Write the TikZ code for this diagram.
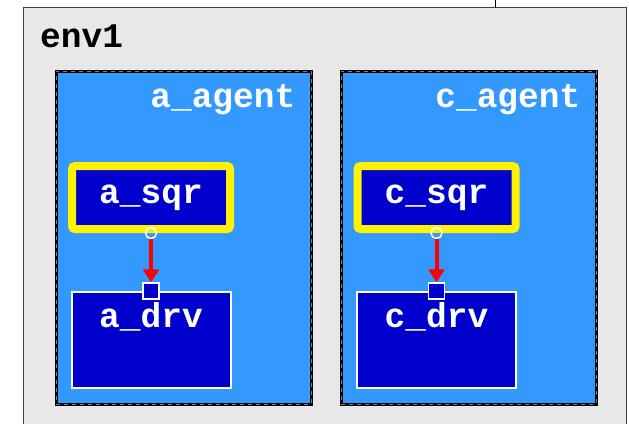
\documentclass[tikz,border=0pt]{standalone}
\usepackage{fontspec}
\setmonofont{Liberation Mono}
\usetikzlibrary{arrows.meta, positioning}
\definecolor{envgray}{HTML}{E8E8E8}
\definecolor{agentblue}{HTML}{3399FF}
\definecolor{compblue}{HTML}{0000CC}
\tikzstyle{env} = [
    rectangle,
    anchor=north west,
    minimum width=603pt,
    minimum height=440pt,
    fill=envgray,
    draw=black!75,
    line width=1.2pt
]
\tikzstyle{agent} = [
    rectangle,
    anchor=north west,
    minimum width=255pt,
    minimum height=333pt,
    fill=agentblue,
    draw=black,
    line width=2.5pt,
    postaction={draw=gray, line width=0.8pt, dash pattern=on 4pt off 4pt}
]
\tikzstyle{sqr} = [
    rectangle,
    rounded corners=3pt,
    minimum width=158pt,
    minimum height=63pt,
    fill=compblue,
    draw=yellow,
    line width=8pt,
    text=white
]
\tikzstyle{drv} = [
    rectangle,
    minimum width=159pt,
    minimum height=96pt,
    fill=compblue,
    draw=white,
    line width=2pt
]
\tikzstyle{lbl} = [
    inner sep=0pt,
    font=\fontsize{34.5pt}{40pt}\ttfamily\bfseries
]
\tikzstyle{inport} = [
    rectangle,
    minimum size=16pt,
    inner sep=0pt,
    fill=compblue,
    draw=white,
    line width=1.5pt
]
\tikzstyle{outport} = [
    circle,
    minimum size=11pt,
    inner sep=0pt,
    draw=white,
    line width=1.5pt
]
\tikzstyle{arrow} = [red, line width=4pt, -{Triangle[length=13pt,width=16pt]}]

\begin{document}
\begin{tikzpicture}[x=1pt, y=-1pt, node distance=142.5pt]
\useasboundingbox (0,0) rectangle (629,423);
\clip (0,0) rectangle (629,423);

\node (env1) [env] at (23,7) {};
\node (env1lbl) [lbl, anchor=base west, xshift=17pt, yshift=-40pt] at (env1.north west) {env1};
\coordinate (outer) at (495,0);
\draw [black, line width=1pt] (outer) -- (outer |- env1.north);

\node (aagent) [agent] at (55,70) {};
\node (cagent) [agent, right=27.5pt of aagent] {};
\node (aagentlbl) [lbl, text=white, anchor=base east, xshift=-17pt, yshift=-37pt] at (aagent.north east) {a\_agent};
\node (cagentlbl) [lbl, text=white, anchor=base east, xshift=-17pt, yshift=-37pt] at (cagent.north east) {c\_agent};

\node (asqr) [sqr, font=\fontsize{34.5pt}{40pt}\ttfamily\bfseries] at (151,197.5) {a\_sqr};
\node (csqr) [sqr, font=\fontsize{34.5pt}{40pt}\ttfamily\bfseries] at (436.5,197.5) {c\_sqr};

\node (adrv) [drv, below of=asqr, label={[lbl, text=white, anchor=base, yshift=-36pt]north:a\_drv}] {};
\node (cdrv) [drv, below of=csqr, label={[lbl, text=white, anchor=base, yshift=-36pt]north:c\_drv}] {};

\node (aout) [outport] at (asqr.south) {};
\node (cout) [outport] at (csqr.south) {};
\node (ain) [inport] at (adrv.north) {};
\node (cin) [inport] at (cdrv.north) {};

\draw [arrow] (aout) -- (ain);
\draw [arrow] (cout) -- (cin);

\end{tikzpicture}
\end{document}
